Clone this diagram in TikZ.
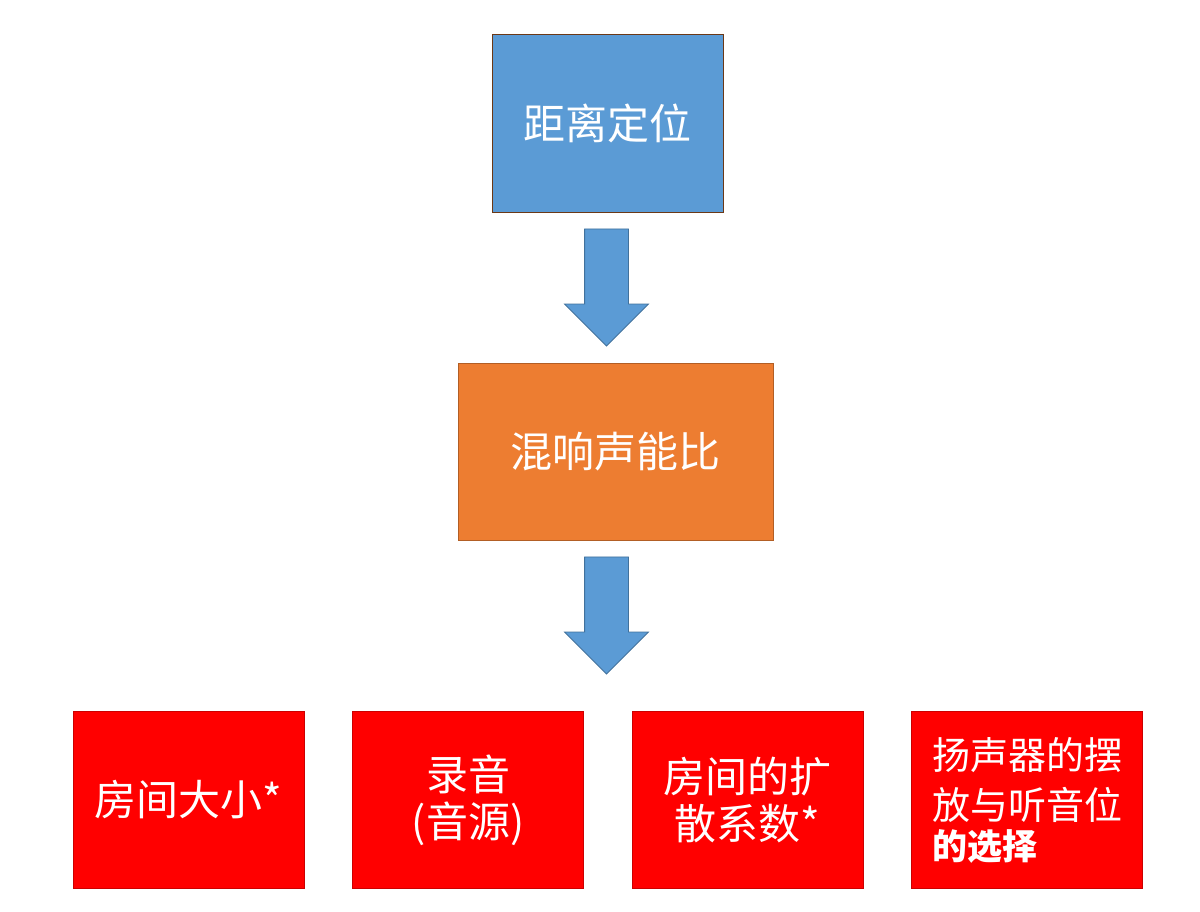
\documentclass[tikz,border=0pt]{standalone}
\usepackage{fontspec}
\setmainfont{Noto Sans CJK SC}
\usetikzlibrary{shapes.arrows}
\definecolor{boxblue}{HTML}{5B9BD5}
\definecolor{boxorange}{HTML}{ED7D31}
\definecolor{boxred}{HTML}{FF0000}
\definecolor{arrowline}{HTML}{41719C}
\tikzset{
	box/.style={draw=#1, line width=0.8pt, inner sep=0pt, text=white, align=center,
		font=\fontsize{42}{47}\selectfont},
	topbox/.style={box=black!55!boxorange, fill=boxblue, minimum width=231pt, minimum height=178pt},
	midbox/.style={box=boxorange!75!black, fill=boxorange, minimum width=315pt, minimum height=177pt},
	factor/.style={box=boxred!80!black, fill=boxred, minimum width=231pt, minimum height=177pt},
	blockarrow/.style={single arrow, draw=arrowline, line width=0.8pt, fill=boxblue, inner sep=21.5pt,
		shape border rotate=270, minimum height=117pt, minimum width=83pt,
		single arrow head extend=20pt, single arrow tip angle=90}
}
\begin{document}
\begin{tikzpicture}[x=1pt,y=-1pt]
		\useasboundingbox (0,0) rectangle (1200,911);
		\node[topbox] (dist) at (607.5,123) {距离定位};
		\node[blockarrow] (a1) at (606.5,276.5) {};
		\node[midbox] (ratio) at (615.5,451.5) {混响声能比};
		\node[blockarrow] (a2) at (606.5,604.5) {};
%
		\node[factor] (size) at (188.5,800) {房间大小*};
		\node[factor] (rec) at (468,800) {录音\\(音源)};
		\node[factor] (diff) at (747.5,800) {房间的扩\\散系数*};
		\node[factor, align=left, font=\fontsize{38}{50}\selectfont] (spk) at (1027,800)
			{扬声器的摆\\放与听音位\\[-10pt]{\bfseries\fontsize{35}{38}\selectfont 的选择}};
	\end{tikzpicture}
\end{document}
